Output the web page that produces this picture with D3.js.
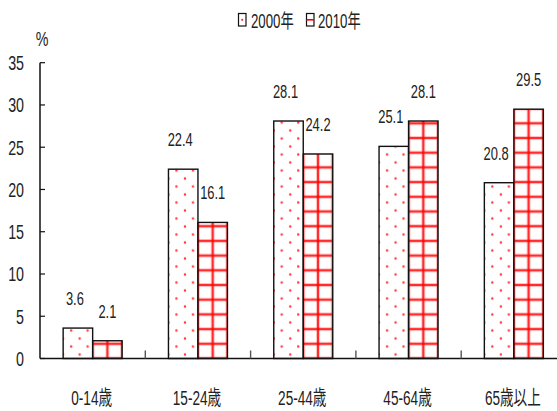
<!DOCTYPE html>
<html>
<head>
<meta charset="utf-8">
<script src="https://cdn.jsdelivr.net/npm/d3@7"></script>
<style>
  body { margin: 0; background: #fff; }
  text { font-family: "Liberation Sans", Arial, "Noto Sans CJK JP", sans-serif; fill: #222; }
</style>
</head>
<body>
<div class="chart"></div>
<script>
// data
const categories = ['0-14歳', '15-24歳', '25-44歳', '45-64歳', '65歳以上'];
const series = ['2000年', '2010年'];
const values2000 = [3.6, 22.4, 28.1, 25.1, 20.8];
const values2010 = [2.1, 16.1, 24.2, 28.1, 29.5];
const yTicks = [0, 5, 10, 15, 20, 25, 30, 35];

const width = 557;
const height = 411;
const plotLeft = 40;
const plotBase = 358.5;
const plotTop = 62.7;
const step = 105.3;
const barPair = 59;
const squeeze = 'scale(0.68,1)';

const svg = d3.select('.chart')
  .append('svg')
  .attr('width', width)
  .attr('height', height);

const defs = svg.append('defs');

const x0 = d3.scaleBand()
  .domain(categories)
  .range([plotLeft, plotLeft + step * categories.length])
  .padding(0);

const x1 = d3.scaleBand()
  .domain(series)
  .range([0, barPair]);

const y = d3.scaleLinear()
  .domain([0, 35])
  .range([plotBase, plotTop]);

// helper for condensed text
function label(g, tx, ty, str, size, anchor) {
  return g.append('text')
    .attr('transform', `translate(${tx},${ty}) ${squeeze}`)
    .attr('text-anchor', anchor || 'middle')
    .style('font-size', size + 'px')
    .text(str);
}

// patterns, one per bar so they line up with the bar edge
function dotPattern(id, px) {
  const p = defs.append('pattern')
    .attr('id', id)
    .attr('patternUnits', 'userSpaceOnUse')
    .attr('x', px).attr('y', plotBase)
    .attr('width', 16.5).attr('height', 16);
  p.append('rect').attr('width', 16.5).attr('height', 16).attr('fill', '#fff');
  p.append('circle').attr('cx', 8).attr('cy', 4).attr('r', 1.2).attr('fill', '#f33');
  p.append('circle').attr('cx', 0).attr('cy', 12).attr('r', 1.2).attr('fill', '#f33');
  p.append('circle').attr('cx', 16.5).attr('cy', 12).attr('r', 1.2).attr('fill', '#f33');
}

function gridPattern(id, px) {
  const w = 14.75, h = 14.7;
  const p = defs.append('pattern')
    .attr('id', id)
    .attr('patternUnits', 'userSpaceOnUse')
    .attr('x', px).attr('y', plotBase)
    .attr('width', w).attr('height', h);
  p.append('rect').attr('width', w).attr('height', h).attr('fill', '#fff');
  [[0, 0, 0, h], [w, 0, w, h], [0, 0, w, 0], [0, h, w, h]].forEach((l) => {
    p.append('line')
      .attr('x1', l[0]).attr('y1', l[1]).attr('x2', l[2]).attr('y2', l[3])
      .attr('stroke', 'rgba(255,0,0,0.25)').attr('stroke-width', 4);
    p.append('line')
      .attr('x1', l[0]).attr('y1', l[1]).attr('x2', l[2]).attr('y2', l[3])
      .attr('stroke', '#f00').attr('stroke-width', 1.5);
  });
}

// bars
const rows = categories.map((c, i) => ({ cat: c, vals: [values2000[i], values2010[i]] }));
const offset = (x0.bandwidth() - barPair) / 2;

rows.forEach((row, i) => {
  row.vals.forEach((v, j) => {
    const bx = x0(row.cat) + offset + x1(series[j]);
    const id = `pat${i}_${j}`;
    if (j === 0) dotPattern(id, bx); else gridPattern(id, bx);
    svg.append('rect')
      .attr('x', bx)
      .attr('y', y(v))
      .attr('width', x1.bandwidth())
      .attr('height', plotBase - y(v))
      .attr('fill', `url(#${id})`)
      .attr('stroke', '#111')
      .attr('stroke-width', 1.4);
    label(svg, bx + x1.bandwidth() / 2 - (j === 0 ? 3 : 0), y(v) - 23, v.toFixed(1), 19);
  });
});

// y axis
svg.append('line')
  .attr('x1', plotLeft).attr('x2', plotLeft)
  .attr('y1', plotTop).attr('y2', plotBase)
  .attr('stroke', '#111').attr('stroke-width', 1.5);

yTicks.forEach((t) => {
  svg.append('line')
    .attr('x1', plotLeft).attr('x2', plotLeft + 5)
    .attr('y1', y(t)).attr('y2', y(t))
    .attr('stroke', '#111').attr('stroke-width', 1.2);
  label(svg, 24, y(t) + 7.5, t, 21, 'end');
});

label(svg, 42, 46, '%', 21);

// x axis
svg.append('line')
  .attr('x1', plotLeft).attr('x2', width)
  .attr('y1', plotBase).attr('y2', plotBase)
  .attr('stroke', '#111').attr('stroke-width', 1.5);

categories.slice(1).forEach((c) => {
  svg.append('line')
    .attr('x1', x0(c)).attr('x2', x0(c))
    .attr('y1', plotBase).attr('y2', plotBase - 8)
    .attr('stroke', '#555').attr('stroke-width', 1.4);
});

categories.forEach((c) => {
  label(svg, x0(c) + x0.bandwidth() / 2 - 1, 404.5, c, 20);
});

// legend
const legend = svg.append('g');
legend.append('rect')
  .attr('x', 238.5).attr('y', 13.5).attr('width', 7.5).attr('height', 12.5)
  .attr('fill', '#fff').attr('stroke', '#111').attr('stroke-width', 1.2);
legend.append('circle')
  .attr('cx', 242.2).attr('cy', 19.8).attr('r', 1.1).attr('fill', '#f33');
label(legend, 251, 27.5, series[0], 19.5, 'start');

legend.append('rect')
  .attr('x', 306.5).attr('y', 13.5).attr('width', 7.5).attr('height', 12.5)
  .attr('fill', '#fff').attr('stroke', '#111').attr('stroke-width', 1.2);
legend.append('line')
  .attr('x1', 306.5).attr('x2', 314).attr('y1', 19.8).attr('y2', 19.8)
  .attr('stroke', '#f00').attr('stroke-width', 1.6);
label(legend, 318, 27.5, series[1], 19.5, 'start');
</script>
</body>
</html>
